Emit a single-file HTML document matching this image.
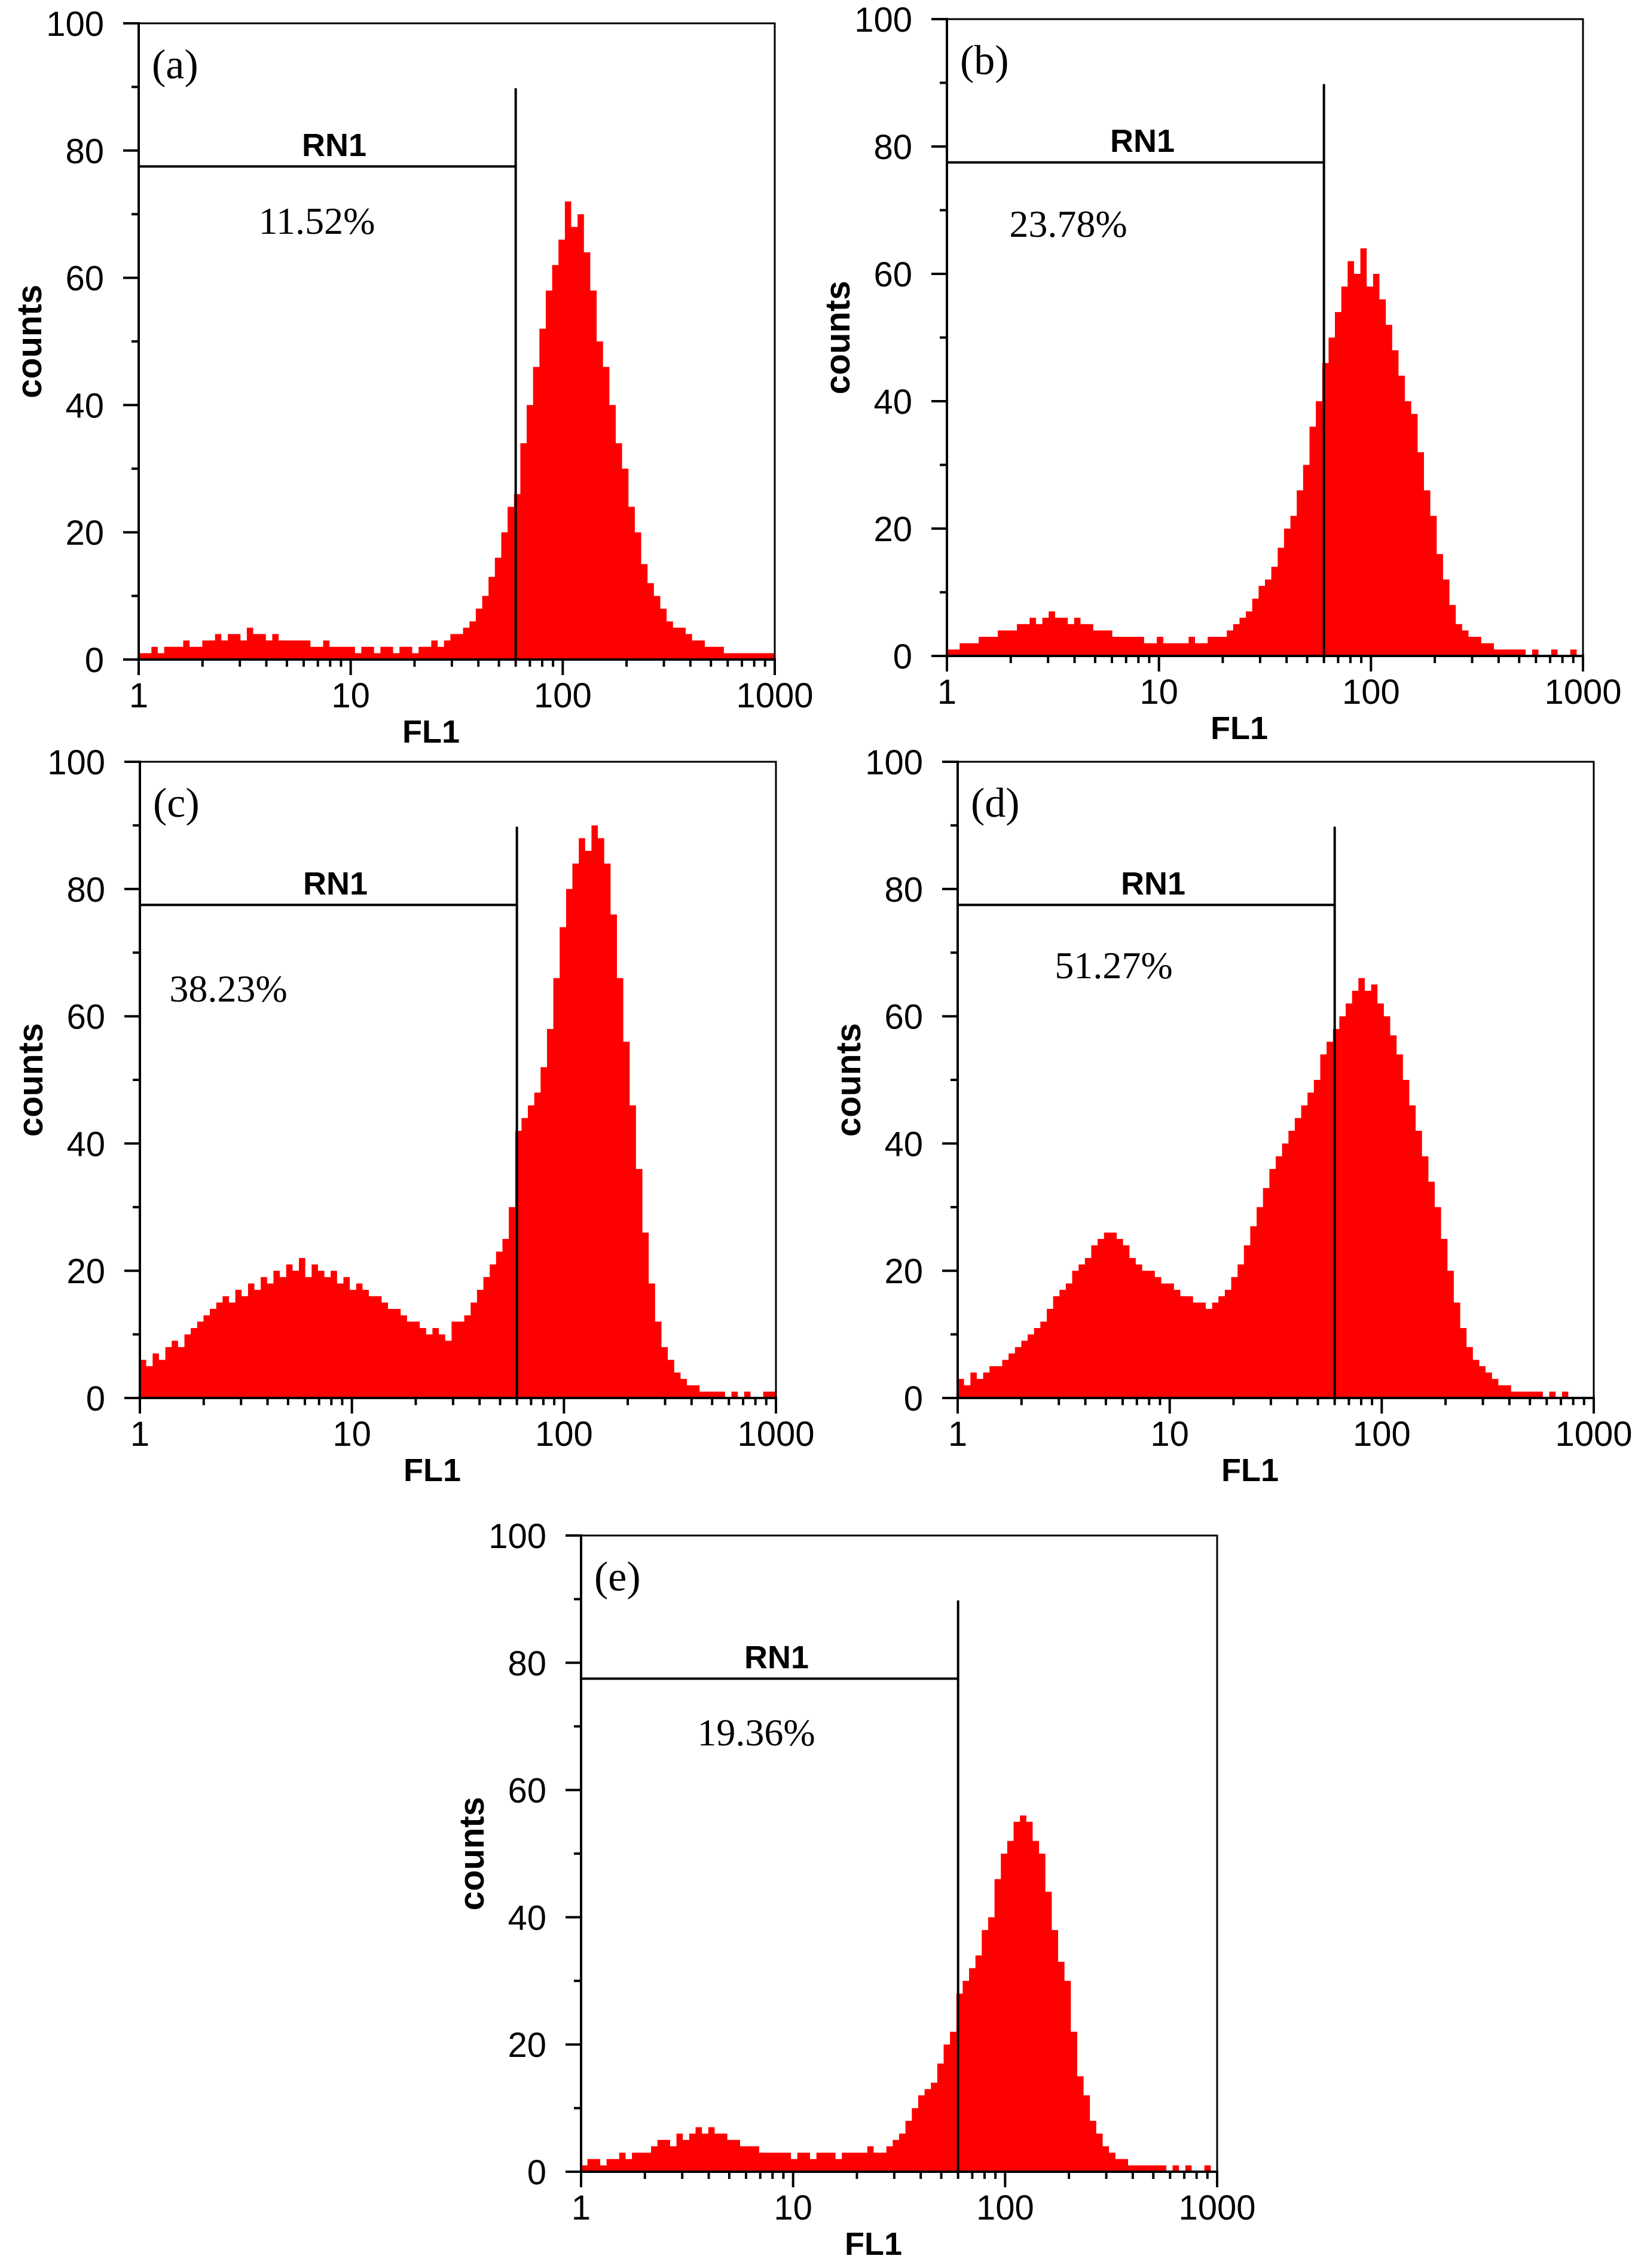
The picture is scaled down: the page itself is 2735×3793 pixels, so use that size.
<!DOCTYPE html>
<html><head><meta charset="utf-8"><style>html,body{margin:0;padding:0;background:#fff}svg{display:block}</style></head>
<body>
<svg id="fig" xmlns="http://www.w3.org/2000/svg" width="2735" height="3793" viewBox="0 0 2735 3793"></svg>
<script>
// ---- data: counts per log bin (100 bins spanning 1..1000, 0.03 decade each) ----
const panelLabels = ["(a)","(b)","(c)","(d)","(e)"];
const percentLabels = ["11.52%","23.78%","38.23%","51.27%","19.36%"];
const yTicks = [0,20,40,60,80,100];
const xTicks = [1,10,100,1000];
const gateThreshold = 60;
const gateTop = 89.8;
const gateLevel = 77.5;
const countsA = [1,1,2,1,2,2,2,3,2,2, 3,3,4,3,4,4,3,5,4,4, 3,4,3,3,3,3,3,2,2,3, 2,2,2,2,1,2,2,1,2,2, 1,2,2,1,2,2,3,2,3,4, 4,5,6,8,10,13,16,20,24,26, 34,40,46,52,58,62,66,72,68,70, 64,58,50,46,40,34,30,24,20,15, 12,10,8,6,5,5,4,3,3,2, 2,2,1,1,1,1,1,1,1,1];
const countsB = [1,1,2,2,2,3,3,3,4,4, 4,5,5,6,5,6,7,6,6,5, 6,5,5,4,4,4,3,3,3,3, 3,2,2,3,2,2,2,2,3,2, 2,3,3,3,4,5,6,7,9,11, 12,14,17,20,22,26,30,36,40,46, 50,54,58,62,60,64,58,60,56,52, 48,44,40,38,32,26,22,16,12,8, 5,4,3,3,2,2,1,1,1,1, 1,0,1,0,0,1,0,0,1,0];
const countsC = [6,5,7,6,8,9,8,10,11,12, 13,14,15,16,15,17,16,18,17,19, 18,20,19,21,20,22,19,21,20,19, 20,18,19,17,18,17,16,16,15,14, 14,13,12,12,11,10,11,10,9,12, 12,13,15,17,19,21,23,25,30,42, 44,46,48,52,58,66,74,80,84,88, 86,90,88,84,76,66,56,46,36,26, 18,12,8,6,4,3,2,2,1,1, 1,1,0,1,0,1,0,0,1,1];
const countsD = [3,2,4,3,4,5,5,6,7,8, 9,10,11,12,14,16,17,18,20,21, 22,24,25,26,26,25,24,22,21,20, 20,19,18,18,17,16,16,15,15,14, 15,16,17,19,21,24,27,30,33,36, 38,40,42,44,46,48,50,54,56,58, 60,62,64,66,64,65,62,60,57,54, 50,46,42,38,34,30,25,20,15,11, 8,6,5,4,3,2,2,1,1,1, 1,1,0,1,0,1,0,0,0,0];
const countsE = [1,2,2,1,2,2,3,2,3,3, 3,4,5,5,4,6,5,6,7,6, 7,6,6,5,5,4,4,4,3,3, 3,3,3,2,3,3,2,3,3,3, 2,3,3,3,3,4,3,3,4,5, 6,8,10,12,13,14,17,20,22,28, 30,32,34,38,40,46,50,52,55,56, 55,52,50,44,38,33,30,22,15,12, 8,6,4,3,2,2,1,1,1,1, 1,1,0,1,0,1,0,0,1,0];
const allCounts = [countsA,countsB,countsC,countsD,countsE];

// layout (not data)
const frames = [
  {l:232,t:39,r:1296,b:1103, px:298, py:330},
  {l:1584,t:32,r:2648,b:1097, px:203, py:342},
  {l:234,t:1274,r:1298,b:2338, px:148, py:379},
  {l:1602,t:1274,r:2666,b:2338, px:261, py:340},
  {l:972,t:2568,r:2036,b:3632, px:293, py:329}
];
const NS="http://www.w3.org/2000/svg";
const svg=document.getElementById('fig');
function mk(tag,attrs,parent){const e=document.createElementNS(NS,tag);for(const k in attrs)e.setAttribute(k,attrs[k]);(parent||svg).appendChild(e);return e;}

frames.forEach((f,pi)=>{
  const g=mk('g',{});
  
  
  const W=f.r-f.l,H=f.b-f.t;
  const xs=v=>f.l+Math.log10(v)/3*W;
  const ys=v=>f.b-v/100*H;
  const data=allCounts[pi];
  const n=data.length;
  let d='';
  data.forEach((v,i)=>{
    const x0=f.l+i/n*W, x1=f.l+(i+1)/n*W;
    const y=ys(v);
    d+=`M${x0.toFixed(1)} ${f.b}V${y.toFixed(1)}H${x1.toFixed(1)}V${f.b}Z`;
  });
  const bars=mk('path',{d:d,fill:'#ff0000',stroke:'none'},g);
  
  
  const fr=mk('path',{d:`M${f.l} ${f.t}H${f.r}V${f.b}`,fill:'none',stroke:'#000','stroke-width':3},g);
  
  
  const ya=mk('line',{x1:f.l,y1:f.t-2,x2:f.l,y2:f.b+2,stroke:'#000','stroke-width':4},g);
  
  
  const xa=mk('line',{x1:f.l-26,y1:f.b,x2:f.r+2,y2:f.b,stroke:'#000','stroke-width':4},g);
  
  
  for(let v=0;v<=100;v+=10){
    const major=yTicks.includes(v);
    mk('line',{x1:f.l-(major?26:12),y1:ys(v),x2:f.l,y2:ys(v),stroke:'#000','stroke-width':4},g);
  }
  yTicks.forEach(v=>{
    const t=mk('text',{x:f.l-58,y:ys(v)+21,'text-anchor':'end','font-family':'Liberation Sans, sans-serif','font-size':58,fill:'#000'},g);
    t.textContent=v;
    
    
  });
  for(let dec=1;dec<1000;dec*=10){
    for(let m=1;m<10;m++){
      const v=dec*m;
      mk('line',{x1:xs(v),y1:f.b,x2:xs(v),y2:f.b+(m===1?26:12),stroke:'#000','stroke-width':4},g);
    }
  }
  mk('line',{x1:f.r,y1:f.b,x2:f.r,y2:f.b+26,stroke:'#000','stroke-width':4},g);
  xTicks.forEach(v=>{
    const t=mk('text',{x:xs(v),y:f.b+80,'text-anchor':'middle','font-family':'Liberation Sans, sans-serif','font-size':58,fill:'#000'},g);
    t.textContent=v;
    
    
  });
  const xt=mk('text',{x:(f.l+f.r)/2-43,y:f.b+139,'text-anchor':'middle','font-family':'Liberation Sans, sans-serif','font-weight':'bold','font-size':54,fill:'#000'},g);
  xt.textContent='FL1';
  
  
  const cy=(f.t+f.b)/2, cx=f.l-163;
  const yt=mk('text',{x:cx,y:cy,'text-anchor':'middle',transform:`rotate(-90 ${cx} ${cy})`,'font-family':'Liberation Sans, sans-serif','font-weight':'bold','font-size':58,fill:'#000'},g);
  yt.textContent='counts';
  
  
  const gx=xs(gateThreshold);
  const gate=mk('path',{d:`M${gx} ${ys(gateTop)}V${f.b}M${f.l} ${ys(gateLevel)}H${gx}`,fill:'none',stroke:'#000','stroke-width':4},g);
  
  
  const rn=mk('text',{x:f.l+327,y:f.t+222,'text-anchor':'middle','font-family':'Liberation Sans, sans-serif','font-weight':'bold','font-size':54,fill:'#000'},g);
  rn.textContent='RN1';
  
  
  const pc=mk('text',{x:f.l+f.px,y:f.t+f.py+22,'text-anchor':'middle','font-family':'Liberation Serif, serif','font-size':64,fill:'#000'},g);
  pc.textContent=percentLabels[pi];
  
  
  const pl=mk('text',{x:f.l+22,y:f.t+92,'font-family':'Liberation Serif, serif','font-size':70,fill:'#000'},g);
  pl.textContent=panelLabels[pi];
  
  
});
</script>
</body></html>
